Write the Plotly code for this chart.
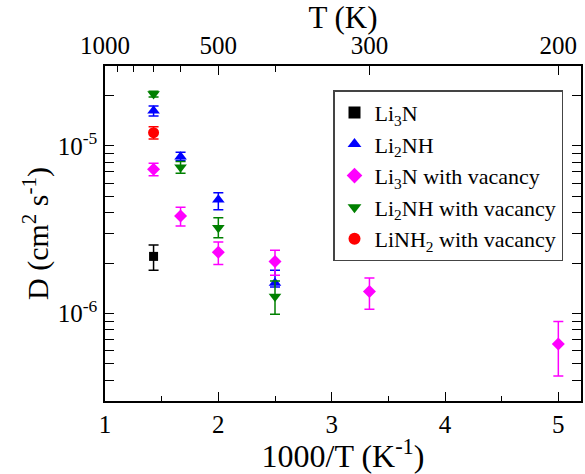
import plotly.graph_objects as go
import math

# x = 1000/T (K^-1)
x_li3n = [1.4286]
y_li3n = [2.19e-6]
eplus_li3n = [0.37e-6]
eminus_li3n = [0.38e-6]

x_li2nh = [1.4286, 1.6667, 2.0, 2.5]
y_li2nh = [1.62e-5, 8.63e-6, 4.77e-6, 1.52e-6]
eplus_li2nh = [0.11e-5, 0.53e-6, 0.48e-6, 0.29e-6]
eminus_li2nh = [0.11e-5, 0.46e-6, 0.61e-6, 0.08e-6]

x_li3nv = [1.4286, 1.6667, 2.0, 2.5, 3.3333, 5.0]
y_li3nv = [7.26e-6, 3.81e-6, 2.32e-6, 2.04e-6, 1.35e-6, 6.56e-7]
eplus_li3nv = [0.61e-6, 0.50e-6, 0.35e-6, 0.34e-6, 0.28e-6, 2.40e-7]
eminus_li3nv = [0.63e-6, 0.48e-6, 0.36e-6, 0.35e-6, 0.29e-6, 2.33e-7]

x_li2nhv = [1.4286, 1.6667, 2.0, 2.5]
y_li2nhv = [2.04e-5, 7.46e-6, 3.25e-6, 1.26e-6]
eplus_li2nhv = [0.08e-5, 0.60e-6, 0.48e-6, 0.30e-6]
eminus_li2nhv = [0.08e-5, 0.59e-6, 0.42e-6, 0.27e-6]

x_linh2v = [1.4286]
y_linh2v = [1.20e-5]
eplus_linh2v = [0.10e-5]
eminus_linh2v = [0.10e-5]

# top axis temperatures
t_major = [1000, 500, 300, 200]
t_minor = [900, 800, 700, 600, 400]

series = [
    ("Li<sub>3</sub>N", x_li3n, y_li3n, eplus_li3n, eminus_li3n, "black", "square", 9),
    ("Li<sub>2</sub>NH", x_li2nh, y_li2nh, eplus_li2nh, eminus_li2nh, "blue", "triangle-up", 11),
    ("Li<sub>3</sub>N with vacancy", x_li3nv, y_li3nv, eplus_li3nv, eminus_li3nv, "magenta", "diamond", 10),
    ("Li<sub>2</sub>NH with vacancy", x_li2nhv, y_li2nhv, eplus_li2nhv, eminus_li2nhv, "green", "triangle-down", 11),
    ("LiNH<sub>2</sub> with vacancy", x_linh2v, y_linh2v, eplus_linh2v, eminus_linh2v, "red", "circle", 11),
]

fig = go.Figure()
for name, xs, ys, ep, em, col, sym, sz in series:
    fig.add_trace(go.Scatter(
        x=xs, y=ys, mode="markers", name=name,
        marker=dict(color=col, symbol=sym, size=sz),
        error_y=dict(type="data", array=ep, arrayminus=em, color=col,
                     thickness=1.5, width=5),
    ))

# invisible trace on top axis
fig.add_trace(go.Scatter(x=[1, 5.2], y=[1e-6, 1e-6], xaxis="x2", mode="markers",
                         marker=dict(opacity=0), showlegend=False, hoverinfo="skip"))

FONT = "Liberation Serif, Times New Roman, serif"
ymin, ymax = 3e-7, 3e-5

y_minor = [k * 1e-7 for k in range(3, 10)] + [k * 1e-6 for k in range(2, 10)] + [k * 1e-5 for k in range(2, 4)]

fig.update_layout(
    width=585, height=474,
    margin=dict(l=105, r=2, t=66, b=73),
    paper_bgcolor="white", plot_bgcolor="white",
    font=dict(family=FONT, color="black", size=25),
    showlegend=True,
    legend=dict(x=0.479, y=0.928, xanchor="left", yanchor="top",
                bordercolor="#444", borderwidth=1.5, bgcolor="white",
                font=dict(family=FONT, size=22, color="black"),
                tracegroupgap=0, itemsizing="constant", itemwidth=30),
    xaxis=dict(
        range=[1, 5.2], showline=True, linecolor="black", linewidth=1.5,
        mirror=False, showgrid=False, zeroline=False,
        ticks="inside", tickcolor="black", ticklen=9, tickwidth=1.2,
        tickmode="array", tickvals=[1, 2, 3, 4, 5], ticktext=["1", "2", "3", "4", "5"],
        tickfont=dict(size=25, family=FONT),
        minor=dict(tickvals=[1.5, 2.5, 3.5, 4.5], ticks="inside", ticklen=5, tickcolor="black", tickwidth=1.2),
        title=dict(text="1000/T (K<sup>-1</sup>)", font=dict(size=32, family=FONT), standoff=4),
    ),
    xaxis2=dict(
        overlaying="x", side="top", range=[1, 5.2], showline=True, linecolor="black", linewidth=1.5,
        showgrid=False, zeroline=False,
        ticks="inside", tickcolor="black", ticklen=9, tickwidth=1.2,
        tickmode="array", tickvals=[1000 / t for t in t_major], ticktext=[str(t) for t in t_major],
        tickfont=dict(size=25, family=FONT),
        minor=dict(tickvals=[1000 / t for t in t_minor], ticks="inside", ticklen=6, tickcolor="black", tickwidth=1.2),
        title=dict(text="T (K)", font=dict(size=31, family=FONT), standoff=4),
    ),
    yaxis=dict(
        type="log", range=[math.log10(ymin), math.log10(ymax)],
        showline=True, linecolor="black", linewidth=1.5, mirror="allticks",
        showgrid=False, zeroline=False,
        ticks="inside", tickcolor="black", ticklen=9, tickwidth=1.2,
        tickmode="array", tickvals=[1e-6, 1e-5], ticktext=["10<sup>-6</sup>", "10<sup>-5</sup>"],
        tickfont=dict(size=25, family=FONT), ticklabelstandoff=1,
        minor=dict(tickvals=y_minor, ticks="inside", ticklen=5, tickcolor="black", tickwidth=1.2),
        title=dict(text="D (cm<sup>2</sup> s<sup>-1</sup>)", font=dict(size=30, family=FONT), standoff=0),
    ),
)

fig.write_html("out.html")
